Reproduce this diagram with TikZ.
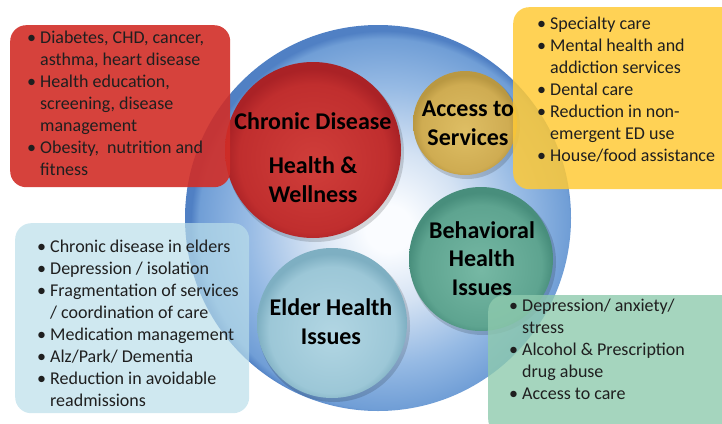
\documentclass[tikz,border=0pt]{standalone}
\usepackage{fontspec}
\setmainfont{Carlito}
\definecolor{bigcA}{RGB}{250,252,255}
\definecolor{bigcB}{RGB}{212,226,243}
\definecolor{bigcC}{RGB}{150,186,228}
\definecolor{bigcD}{RGB}{112,158,214}
\definecolor{bigcE}{RGB}{80,128,196}
\definecolor{redcA}{RGB}{208,62,58}
\definecolor{redcB}{RGB}{192,46,46}
\definecolor{redcC}{RGB}{170,34,38}
\definecolor{yelcA}{RGB}{222,190,100}
\definecolor{yelcB}{RGB}{207,172,82}
\definecolor{yelcC}{RGB}{185,152,66}
\definecolor{grncA}{RGB}{118,184,164}
\definecolor{grncB}{RGB}{94,164,144}
\definecolor{grncC}{RGB}{72,142,124}
\definecolor{eldcA}{RGB}{178,214,227}
\definecolor{eldcB}{RGB}{156,199,215}
\definecolor{eldcC}{RGB}{126,175,194}
\definecolor{redbox}{RGB}{209,45,39}
\definecolor{yelbox}{RGB}{255,202,55}
\definecolor{bluebox}{RGB}{186,222,234}
\definecolor{grnbox}{RGB}{142,202,174}
\pgfdeclareradialshading{bigshade}{\pgfpoint{1.5bp}{-1.5bp}}{color(0bp)=(bigcA); color(3bp)=(bigcA); color(10bp)=(bigcB); color(18bp)=(bigcC); color(24bp)=(bigcD); color(25bp)=(bigcE); color(50bp)=(bigcE)}
\pgfdeclareradialshading{redshade}{\pgfpoint{0bp}{-4bp}}{color(0bp)=(redcA); color(21bp)=(redcB); color(25bp)=(redcC); color(50bp)=(redcC)}
\pgfdeclareradialshading{yelshade}{\pgfpoint{0bp}{-4bp}}{color(0bp)=(yelcA); color(21bp)=(yelcB); color(25bp)=(yelcC); color(50bp)=(yelcC)}
\pgfdeclareradialshading{grnshade}{\pgfpoint{0bp}{-4bp}}{color(0bp)=(grncA); color(21bp)=(grncB); color(25bp)=(grncC); color(50bp)=(grncC)}
\pgfdeclareradialshading{eldshade}{\pgfpoint{0bp}{-4bp}}{color(0bp)=(eldcA); color(21bp)=(eldcB); color(25bp)=(eldcC); color(50bp)=(eldcC)}
\newcommand{\bul}{\makebox[13pt][l]{•}}
\newcommand{\ind}{\hspace*{13pt}}
\begin{document}
\begin{tikzpicture}[x=1pt,y=-1pt,
  ball/.style={circle,inner sep=0pt,draw=none},
  shadowball/.style={circle,inner sep=0pt,draw=none,fill=black,fill opacity=0.15},
  infobox/.style={rectangle,rounded corners=16pt,draw=none,inner sep=0pt,anchor=north west,fill opacity=#1},
  bodytext/.style={anchor=base west,align=left,inner sep=0pt,font=\fontsize{18}{22}\selectfont,text=black!88},
  headtext/.style={anchor=base,align=center,inner sep=0pt,font=\fontsize{24}{28.5}\selectfont\bfseries,text=black}]
\useasboundingbox (0,0) rectangle (722,423);
% main circle
\node[ball,minimum size=386pt,shade,shading=bigshade] (big) at (378,218) {};
% shadows
\node[shadowball,minimum size=178pt] (redsh) at (315,153) {};
\node[shadowball,minimum size=106pt] (yelsh) at (467,126) {};
\node[shadowball,minimum size=146pt] (grnsh) at (483,262) {};
\node[shadowball,minimum size=152pt] (eldsh) at (334,326) {};
% inner circles
\node[ball,minimum size=176pt,shade,shading=redshade] (redc) at (313,150) {};
\node[ball,minimum size=104pt,shade,shading=yelshade] (yelc) at (465,123) {};
\node[ball,minimum size=144pt,shade,shading=grnshade] (grnc) at (481,259) {};
\node[ball,minimum size=150pt,shade,shading=eldshade] (eldc) at (332,323) {};
% boxes
\node[infobox=0.9,fill=redbox,minimum width=220pt,minimum height=162pt] (redb) at (10,25) {};
\node[infobox=0.85,fill=yelbox,minimum width=230pt,minimum height=182pt] (yelb) at (513,7) {};
\node[infobox=0.7,fill=bluebox,minimum width=234pt,minimum height=190pt] (blueb) at (15,223) {};
\node[infobox=0.8,fill=grnbox,minimum width=250pt,minimum height=140pt] (grnb) at (488,295) {};
% box texts (anchored at the baseline of the last line)
\node[bodytext] (redt) at (27,175) {\bul Diabetes, CHD, cancer,\\ \ind asthma, heart disease\\ \bul Health education,\\ \ind screening, disease\\ \ind management\\ \bul Obesity,\ \ nutrition and\\ \ind fitness};
\node[bodytext] (yelt) at (537,161) {\bul Specialty care\\ \bul Mental health and\\ \ind addiction services\\ \bul Dental care\\ \bul Reduction in non-\\ \ind emergent ED use\\ \bul House/food assistance};
\node[bodytext] (bluet) at (37,406) {\bul Chronic disease in elders\\ \bul Depression / isolation\\ \bul Fragmentation of services\\ \ind / coordination of care\\ \bul Medication management\\ \bul Alz/Park/ Dementia\\ \bul Reduction in avoidable\\ \ind readmissions};
\node[bodytext] (grnt) at (509,399) {\bul Depression/ anxiety/\\ \ind stress\\ \bul Alcohol \& Prescription\\ \ind drug abuse\\ \bul Access to care};
% circle labels
\node[headtext] (redl) at (313,202) {Chronic Disease\\[16pt] Health \&\\ Wellness};
\node[headtext] (yell) at (468,145) {Access to\\ Services};
\node[headtext] (grnl) at (482,295) {Behavioral\\ Health\\ Issues};
\node[headtext] (eldl) at (331,344) {Elder Health\\ Issues};
\end{tikzpicture}
\end{document}
